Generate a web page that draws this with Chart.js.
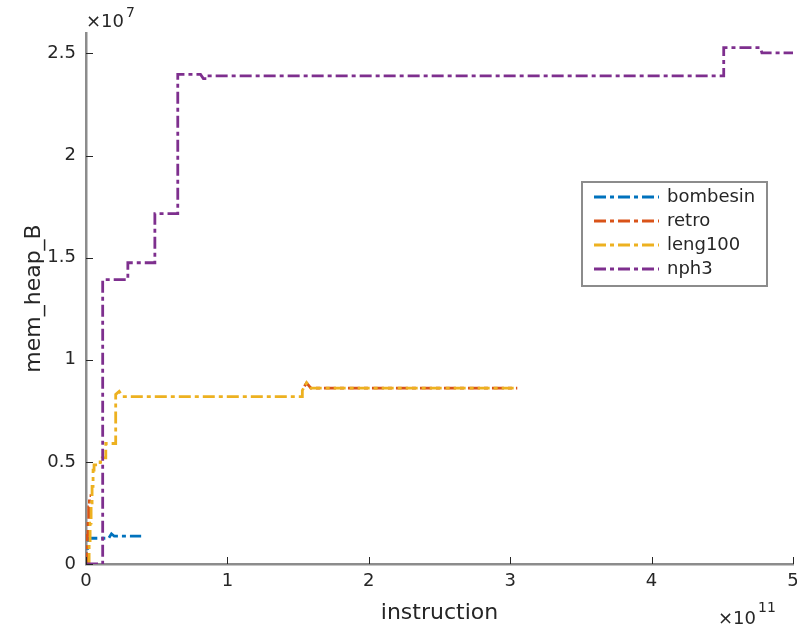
<!DOCTYPE html>
<html>
<head>
<meta charset="utf-8">
<script src="https://cdn.jsdelivr.net/npm/chart.js@4/dist/chart.umd.min.js"></script>
<style>
  html, body { margin: 0; padding: 0; background: #fff; }
  canvas { display: block; }
</style>
</head>
<body>
<canvas id="heap-chart" width="797" height="627"></canvas>
<script>
// x: instructions (x 1e11), y: mem_heap_B (x 1e7)
const bombesinX = [0, 0.005, 0.005, 0.012, 0.012, 0.02, 0.16, 0.18, 0.20, 0.39];
const bombesinY = [0, 0, 0.05, 0.05, 0.09, 0.126, 0.126, 0.148, 0.136, 0.136];

// retro is hidden under leng100 between the two visible pieces
const retroX = [0, 0.004, 0.004, 0.009, 0.009, 0.014, 0.014, 0.019, 0.019, 0.024, 0.024, 0.035, 0.035, 1.545, 1.56, 1.59, 3.05];
const retroY = [0, 0, 0.06, 0.06, 0.14, 0.14, 0.21, 0.21, 0.28, 0.28, 0.335, 0.335, null, 0.87, 0.887, 0.861, 0.861];

const leng100X = [0.015, 0.022, 0.022, 0.029, 0.029, 0.036, 0.036, 0.043, 0.043, 0.05, 0.05, 0.057, 0.057, 0.1, 0.1, 0.115, 0.115, 0.14, 0.14, 0.21, 0.21, 0.235, 0.26, 1.53, 1.53, 1.56, 1.59, 3.05];
const leng100Y = [0, 0, 0.1, 0.1, 0.2, 0.2, 0.3, 0.3, 0.38, 0.38, 0.46, 0.46, 0.485, 0.485, 0.5, 0.5, 0.52, 0.52, 0.59, 0.59, 0.83, 0.845, 0.82, 0.82, 0.85, 0.887, 0.861, 0.861];

const nph3X = [0, 0.118, 0.118, 0.296, 0.296, 0.487, 0.487, 0.649, 0.649, 0.81, 0.83, 0.87, 0.87, 4.51, 4.51, 4.77, 4.78, 5.0];
const nph3Y = [0, 0, 1.392, 1.392, 1.475, 1.475, 1.716, 1.716, 2.397, 2.397, 2.377, 2.377, 2.39, 2.39, 2.528, 2.528, 2.503, 2.503];

const seriesNames = ['bombesin', 'retro', 'leng100', 'nph3'];
const seriesColors = ['#0072BD', '#D95319', '#EDB120', '#7E2F8E'];

const xTicks = [0, 1, 2, 3, 4, 5];
const yTicks = [0, 0.5, 1, 1.5, 2, 2.5];
const xExponent = '11';
const yExponent = '7';

const FONT = '"DejaVu Sans", sans-serif';
const TEXT = '#262626';
const DASH = [12, 4, 4, 4];

function points(xs, ys) {
	return xs.map((x, i) => ({x: x, y: ys[i]}));
}

const seriesData = [
	points(bombesinX, bombesinY),
	points(retroX, retroY),
	points(leng100X, leng100Y),
	points(nph3X, nph3Y)
];

// inward ticks, exponent labels, axis titles and the boxed legend
const matlabAxes = {
	id: 'matlabAxes',
	afterDraw(chart) {
		const ctx = chart.ctx;
		const xs = chart.scales.x;
		const ys = chart.scales.y;
		const area = chart.chartArea;

		ctx.save();
		ctx.strokeStyle = TEXT;
		ctx.lineWidth = 1;
		xTicks.forEach(v => {
			const px = Math.round(xs.getPixelForValue(v)) + 0.5;
			ctx.beginPath();
			ctx.moveTo(px, area.bottom);
			ctx.lineTo(px, area.bottom - 7);
			ctx.stroke();
		});
		yTicks.forEach(v => {
			const py = Math.round(ys.getPixelForValue(v)) + 0.5;
			ctx.beginPath();
			ctx.moveTo(area.left, py);
			ctx.lineTo(area.left + 7, py);
			ctx.stroke();
		});

		ctx.fillStyle = TEXT;
		ctx.textBaseline = 'alphabetic';

		// x 10^7 above the y axis
		ctx.textAlign = 'left';
		ctx.font = '18px ' + FONT;
		ctx.fillText('\u00d710', 86, 27);
		let w = ctx.measureText('\u00d710').width;
		ctx.font = '14px ' + FONT;
		ctx.fillText(yExponent, 86 + w + 2, 17);

		// x 10^11 under the right end of the x axis
		ctx.font = '18px ' + FONT;
		ctx.fillText('\u00d710', 718, 624);
		w = ctx.measureText('\u00d710').width;
		ctx.font = '14px ' + FONT;
		ctx.fillText(xExponent, 718 + w + 2, 612);

		// axis titles
		ctx.font = '22px ' + FONT;
		ctx.textAlign = 'center';
		ctx.fillText('instruction', (area.left + area.right) / 2, 619);
		ctx.save();
		ctx.translate(40, (area.top + area.bottom) / 2);
		ctx.rotate(-Math.PI / 2);
		ctx.fillText('mem_heap_B', 0, 0);
		ctx.restore();

		// legend
		const lx = 582, ly = 182, lw = 185, lh = 104;
		ctx.fillStyle = '#fff';
		ctx.fillRect(lx, ly, lw, lh);
		ctx.strokeStyle = '#8c8c8c';
		ctx.lineWidth = 2;
		ctx.strokeRect(lx, ly, lw, lh);
		ctx.font = '18px ' + FONT;
		ctx.textAlign = 'left';
		ctx.textBaseline = 'middle';
		seriesNames.forEach((name, i) => {
			const ry = 197 + i * 24;
			ctx.strokeStyle = seriesColors[i];
			ctx.lineWidth = 2.8;
			ctx.setLineDash(DASH);
			ctx.beginPath();
			ctx.moveTo(594, ry);
			ctx.lineTo(659, ry);
			ctx.stroke();
			ctx.setLineDash([]);
			ctx.fillStyle = TEXT;
			ctx.fillText(name, 667, ry);
		});
		ctx.restore();
	}
};

new Chart(document.getElementById('heap-chart'), {
	type: 'scatter',
	data: {
		datasets: seriesNames.map((name, i) => ({
			label: name,
			data: seriesData[i],
			showLine: true,
			spanGaps: false,
			borderColor: seriesColors[i],
			backgroundColor: seriesColors[i],
			borderWidth: 2.8,
			borderDash: DASH,
			pointRadius: 0,
			order: seriesNames.length - i
		}))
	},
	options: {
		responsive: false,
		animation: false,
		devicePixelRatio: 1,
		layout: {padding: {top: 33, right: 4, left: 0, bottom: 0}},
		plugins: {
			legend: {display: false},
			tooltip: {enabled: false}
		},
		scales: {
			x: {
				type: 'linear',
				min: 0,
				max: 5,
				grid: {display: false, drawTicks: false},
				border: {display: true, color: '#8c8c8c', width: 2.5},
				afterBuildTicks: scale => { scale.ticks = xTicks.map(v => ({value: v})); },
				afterFit: scale => {
					scale.height = 63;
					scale.paddingLeft = 0;
					scale.paddingRight = 0;
				},
				ticks: {
					padding: 7,
					color: TEXT,
					font: {family: FONT, size: 18},
					callback: v => String(v)
				}
			},
			y: {
				type: 'linear',
				min: 0,
				max: 2.6,
				grid: {display: false, drawTicks: false},
				border: {display: true, color: '#8c8c8c', width: 2.5},
				afterBuildTicks: scale => { scale.ticks = yTicks.map(v => ({value: v})); },
				afterFit: scale => {
					scale.width = 86;
					scale.paddingTop = 0;
					scale.paddingBottom = 0;
				},
				ticks: {
					padding: 10,
					color: TEXT,
					font: {family: FONT, size: 18},
					callback: v => String(v)
				}
			}
		}
	},
	plugins: [matlabAxes]
});
</script>
</body>
</html>
